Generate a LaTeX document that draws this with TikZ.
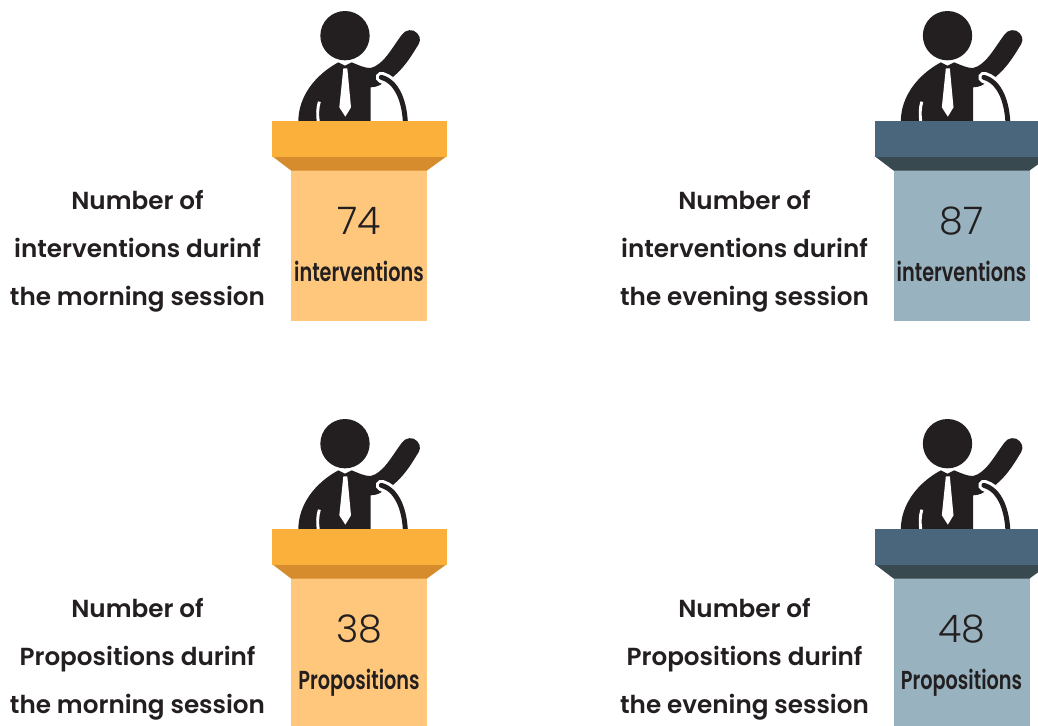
\documentclass[tikz,border=0pt]{standalone}
\usepackage{fontspec}
\setmainfont{Poppins}
\newfontfamily\lightf{Poppins Light}
\newfontfamily\semif{Poppins SemiBold}
\definecolor{ink}{HTML}{231F20}
\definecolor{orA}{HTML}{FBB03B}
\definecolor{orB}{HTML}{D68C2C}
\definecolor{orC}{HTML}{FEC77C}
\definecolor{blA}{HTML}{4A667C}
\definecolor{blB}{HTML}{38494F}
\definecolor{blC}{HTML}{98B3BF}
\tikzset{
  sidetext/.style={font=\fontsize{18.5}{18.5}\selectfont\semif, text=ink, anchor=base, inner sep=0pt},
  numtext/.style={font=\fontsize{28.5}{28.5}\selectfont\lightf, text=ink, anchor=base, inner sep=0pt},
  unittext/.style={font=\fontsize{19.5}{19.5}\selectfont\semif, text=ink, anchor=base, inner sep=0pt, xscale=0.74},
}
% #1 name, #2 x, #3 y, #4 top, #5 dark, #6 light, #7 number, #8 unit
\newcommand{\podium}[8]{%
\begin{scope}[shift={(#2,#3)}]
  % figure, drawn in zoom units (1/3 px) from (260,0)
  \begin{scope}[shift={(260,0)},x=1/3*0.75pt,y=-1/3*0.75pt]
    \fill[ink] (255,107) circle (74);
    \fill[ink] (115,364) .. controls (115,290) and (165,225) .. (235,187)
      -- (255,197) -- (275,187) .. controls (295,195) and (315,205) .. (332,204)
      .. controls (370,195) and (395,145) .. (425,105)
      .. controls (435,88) and (460,85) .. (472,100)
      .. controls (485,115) and (480,128) .. (470,142)
      .. controls (450,175) and (430,205) .. (400,230)
      -- (360,255) .. controls (350,260) and (340,262) .. (332,262) -- (332,364) -- cycle;
    \draw[white,line width=2.2pt] (175,366) .. controls (172,345) and (172,325) .. (178,305);
    \fill[white] (250,205) -- (262,205) -- (273,322) -- (256,350) -- (238,322) -- cycle;
    \draw[white,line width=8.5pt,line cap=round] (364,232) .. controls (405,245) and (425,285) .. (430,330);
    \draw[ink,line width=3.7pt,line cap=round] (364,232) .. controls (410,245) and (432,300) .. (436,364);
  \end{scope}
  \fill[#6] (291,170) rectangle (427,321);
  \fill[#5] (272,156) -- (447,156) -- (427,170.5) -- (291,170.5) -- cycle;
  \fill[#4] (272,121) rectangle (447,156.5);
  \node[numtext] (#1num) at (359,234) {#7};
  \node[unittext] (#1unit) at (359,281.7) {#8};
\end{scope}}
\newcommand{\sidetexts}[5]{%
  \node[sidetext] (#1a) at (#2,#3+209) {Number of};
  \node[sidetext] (#1b) at (#2,#3+257) {#4 durinf};
  \node[sidetext] (#1c) at (#2,#3+305) {the #5 session};}
\begin{document}
\begin{tikzpicture}[x=0.75pt,y=-0.75pt]
  \useasboundingbox (0,0) rectangle (1038,725);
  \podium{mi}{0}{0}{orA}{orB}{orC}{74}{interventions}
  \podium{ei}{602.5}{0}{blA}{blB}{blC}{87}{interventions}
  \podium{mp}{0}{408}{orA}{orB}{orC}{38}{Propositions}
  \podium{ep}{602.5}{408}{blA}{blB}{blC}{48}{Propositions}
  \sidetexts{tmi}{137.5}{0}{interventions}{morning}
  \sidetexts{tei}{744.5}{0}{interventions}{evening}
  \sidetexts{tmp}{137.5}{408}{Propositions}{morning}
  \sidetexts{tep}{744.5}{408}{Propositions}{evening}
\end{tikzpicture}
\end{document}
